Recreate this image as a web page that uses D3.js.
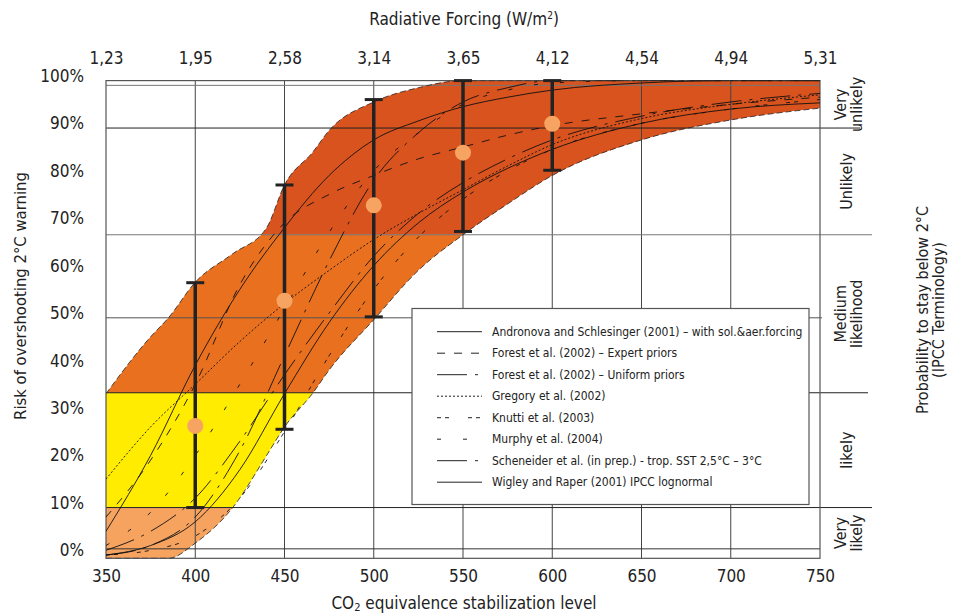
<!DOCTYPE html>
<html>
<head>
<meta charset="utf-8">
<script src="https://cdn.jsdelivr.net/npm/d3@7"></script>
<style>
body { margin: 0; background: #fff; }
text { font-family: "Liberation Sans Narrow", "DejaVu Sans Condensed", sans-serif; fill: #222; }
</style>
</head>
<body>
<div id="chart"></div>
<script>
const W = 953, H = 614;

// axis values
const co2Ticks = [350, 400, 450, 500, 550, 600, 650, 700, 750];
const forcingLabels = ["1,23", "1,95", "2,58", "3,14", "3,65", "4,12", "4,54", "4,94", "5,31"];
const riskTicks = [0, 10, 20, 30, 40, 50, 60, 70, 80, 90, 100];

// IPCC likelihood zones (risk %)
const zoneBreaks = [10, 34.2, 67.5, 90];
const zoneNames = [["Very", "likely"], ["likely"], ["Medium", "likelihood"], ["Unlikely"], ["Very", "unlikely"]];
// colour bands of the envelope
const fillBreaks = [10, 34.2, 67.5];
const zoneFill = ["#f6a360", "#ffec00", "#e8701f", "#d9531e"];

// envelope of all models
const bandCO2 = [350, 375, 385, 400, 421, 440, 450, 466, 475, 500, 525, 550, 575, 600, 650, 700, 750];
const bandUpper = [34, 46, 50, 57.5, 63.5, 69, 78, 85, 89.5, 95.5, 98.5, 100, 100, 100, 100, 100, 100];
const bandLower = [-0.7, -0.7, -0.7, 2.5, 10, 21, 27, 34.2, 39, 49.6, 60, 67.5, 74, 80, 87.5, 91.7, 94.2];

// model curves
const curveCO2 = [350, 375, 400, 425, 450, 475, 500, 525, 550, 575, 600, 650, 700, 750];
const andronova = [5, 21, 40, 56, 69, 80, 87.5, 91.5, 94.5, 96.5, 98, 99.5, 100, 100];
const forestExpert = [8, 20, 36, 57, 70, 76, 80, 83.5, 86, 88.5, 90.5, 93, 95, 96.5];
const forestUniform = [0, 2, 8, 22, 42, 62, 79, 89, 95.5, 98.5, 100, 100, 100, 100];
const gregory = [16, 27, 36, 45, 53, 60, 66.5, 72, 77, 82, 86.5, 92, 95, 97];
const knutti = [0, 1, 4, 12, 26, 42, 56, 67, 75, 81, 85.5, 91, 94, 96];
const murphy = [2, 9, 21, 36, 52, 68, 81, 89, 95, 98, 99.5, 100, 100, 100];
const scheneider = [1, 5, 12, 24, 38, 51, 63, 72, 78.5, 83.5, 87.5, 92.5, 95.5, 97.3];
const wigley = [0, 2, 7, 18, 34, 49, 61, 70, 76.5, 81.5, 85.5, 91, 94, 95.3];

const modelNames = [
  "Andronova and Schlesinger (2001) – with sol.&aer.forcing",
  "Forest et al. (2002) – Expert priors",
  "Forest et al. (2002) – Uniform priors",
  "Gregory et al. (2002)",
  "Knutti et al. (2003)",
  "Murphy et al. (2004)",
  "Scheneider et al. (in prep.) - trop. SST 2,5°C – 3°C",
  "Wigley and Raper (2001) IPCC lognormal"
];
const modelValues = [andronova, forestExpert, forestUniform, gregory, knutti, murphy, scheneider, wigley];
const modelDash = [null, "8,9", "30,8,3,8", "2,2", "4,4,4,19", "4,22", "30,8,3,8", null];

// error bars at the stabilization levels
const barCO2 = [400, 450, 500, 550, 600];
const barLow = [10, 26.5, 50.2, 68.2, 81.1];
const barHigh = [57.4, 78, 96, 100, 100];
const barMid = [27.2, 53.6, 73.7, 84.8, 90.9];

const x = d3.scaleLinear().domain([350, 750]).range([106, 820]);
const y = d3.scaleLinear().domain([0, 100]).range([555, 80.6]);
const yBottom = y(-0.7);

const svg = d3.select("#chart").append("svg")
  .attr("width", W).attr("height", H);

const defs = svg.append("defs");
defs.append("clipPath").attr("id", "plotclip")
  .append("rect")
  .attr("x", x(350)).attr("y", y(100))
  .attr("width", x(750) - x(350)).attr("height", yBottom - y(100));

const bandArea = d3.area()
  .x((d, i) => x(bandCO2[i]))
  .y0((d, i) => y(bandLower[i]))
  .y1((d, i) => y(bandUpper[i]))
  .curve(d3.curveMonotoneX);

defs.append("clipPath").attr("id", "bandclip")
  .append("path").attr("d", bandArea(bandCO2));

// coloured zones inside the envelope
const fillEdges = [-0.7].concat(fillBreaks, [100]);
svg.append("g").attr("clip-path", "url(#plotclip)")
  .append("g").attr("clip-path", "url(#bandclip)")
  .selectAll("rect")
  .data(zoneFill)
  .enter().append("rect")
    .attr("x", x(350))
    .attr("width", x(750) - x(350))
    .attr("y", (d, i) => y(fillEdges[i + 1]))
    .attr("height", (d, i) => y(fillEdges[i]) - y(fillEdges[i + 1]))
    .attr("fill", d => d);

// grid
const grid = svg.append("g");
grid.selectAll(".vline")
  .data(co2Ticks.slice(1, -1))
  .enter().append("line")
    .attr("x1", d => x(d)).attr("x2", d => x(d))
    .attr("y1", y(100)).attr("y2", yBottom)
    .attr("stroke", "#444").attr("stroke-width", 1);

const hLines = [
  {v: 99, end: 750, c: "#777"},
  {v: 90, end: 860, c: "#222"},
  {v: 67.5, end: 872, c: "#777"},
  {v: 50, end: 822, c: "#555"},
  {v: 34.2, end: 868, c: "#222"},
  {v: 10, end: 872, c: "#222"},
  {v: 1.3, end: 750, c: "#333"}
];
grid.selectAll(".hline")
  .data(hLines)
  .enter().append("line")
    .attr("x1", x(350))
    .attr("x2", d => d.end > 800 ? d.end : x(d.end))
    .attr("y1", d => y(d.v)).attr("y2", d => y(d.v))
    .attr("stroke", d => d.c).attr("stroke-width", 1);

// frame
svg.append("rect")
  .attr("x", x(350)).attr("y", y(100))
  .attr("width", x(750) - x(350)).attr("height", yBottom - y(100))
  .attr("fill", "none").attr("stroke", "#555").attr("stroke-width", 1.2);

// model curves
const plotG = svg.append("g").attr("clip-path", "url(#plotclip)");
const line = d3.line()
  .x((d, i) => x(curveCO2[i]))
  .y(d => y(d))
  .curve(d3.curveMonotoneX);

plotG.selectAll(".model")
  .data(modelValues)
  .enter().append("path")
    .attr("d", line)
    .attr("fill", "none")
    .attr("stroke", "#111")
    .attr("stroke-width", 0.9)
    .attr("stroke-dasharray", (d, i) => modelDash[i]);

// dashed edge of the envelope
const edge = d3.line()
  .x((d, i) => x(bandCO2[i]))
  .y(d => y(d))
  .curve(d3.curveMonotoneX);
[bandUpper, bandLower].forEach(arr => {
  plotG.append("path")
    .attr("d", edge(arr))
    .attr("fill", "none")
    .attr("stroke", "#222")
    .attr("stroke-width", 0.8)
    .attr("stroke-dasharray", "6,3");
});

// error bars
const bars = svg.append("g");
barCO2.forEach((c, i) => {
  bars.append("line")
    .attr("x1", x(c)).attr("x2", x(c))
    .attr("y1", y(barLow[i])).attr("y2", y(barHigh[i]))
    .attr("stroke", "#222").attr("stroke-width", 3.5);
  [barLow[i], barHigh[i]].forEach(v => {
    bars.append("line")
      .attr("x1", x(c) - 9).attr("x2", x(c) + 9)
      .attr("y1", y(v)).attr("y2", y(v))
      .attr("stroke", "#222").attr("stroke-width", 3);
  });
});
bars.selectAll("circle")
  .data(barMid)
  .enter().append("circle")
    .attr("cx", (d, i) => x(barCO2[i]))
    .attr("cy", d => y(d))
    .attr("r", 8)
    .attr("fill", "#f7a462");

// axes
const xAxis = svg.append("g")
  .attr("transform", `translate(0,${yBottom})`)
  .call(d3.axisBottom(x).tickValues(co2Ticks).tickSize(0).tickPadding(12).tickFormat(d3.format("d")));
const topAxis = svg.append("g")
  .attr("transform", `translate(0,${y(100)})`)
  .call(d3.axisTop(x).tickValues(co2Ticks).tickSize(0).tickPadding(17)
    .tickFormat((d, i) => forcingLabels[i]));
const yAxis = svg.append("g")
  .attr("transform", `translate(${x(350)},0)`)
  .call(d3.axisLeft(y).tickValues(riskTicks).tickSize(0).tickPadding(22).tickFormat(d => d + "%"));
[xAxis, topAxis, yAxis].forEach(g => {
  g.select(".domain").remove();
  g.selectAll("text").style("font-size", "17px").attr("fill", "#222");
});
yAxis.selectAll("text").attr("dy", "0.05em");

// titles
svg.append("text")
  .attr("x", 464).attr("y", 25)
  .attr("text-anchor", "middle")
  .style("font-size", "17px")
  .html('Radiative Forcing (W/m<tspan dy="-6" font-size="10px">2</tspan><tspan dy="6">)</tspan>');

svg.append("text")
  .attr("x", 464).attr("y", 609)
  .attr("text-anchor", "middle")
  .style("font-size", "17px")
  .html('CO<tspan dy="2" font-size="11px">2</tspan><tspan dy="-2"> equivalence stabilization level</tspan>');

svg.append("text")
  .attr("transform", "translate(26,296) rotate(-90)")
  .attr("text-anchor", "middle")
  .style("font-size", "16.5px")
  .text("Risk of overshooting 2°C warning");

const rightTitle = svg.append("text")
  .attr("transform", "translate(928,310) rotate(-90)")
  .attr("text-anchor", "middle")
  .style("font-size", "16px");
rightTitle.append("tspan").attr("x", 0).attr("dy", 0).text("Probability to stay below 2°C");
rightTitle.append("tspan").attr("x", 0).attr("dy", 16).text("(IPCC Terminology)");

// likelihood names on the right
const zoneEdges = [-0.7].concat(zoneBreaks, [100]);
const zoneMid = zoneEdges.slice(0, -1).map((v, i) => (v + zoneEdges[i + 1]) / 2);
zoneNames.forEach((lines, i) => {
  const t = svg.append("text")
    .attr("transform", `translate(${lines.length > 1 ? 846 : 852},${y(zoneMid[i])}) rotate(-90)`)
    .attr("text-anchor", "middle")
    .style("font-size", "16px");
  lines.forEach((s, j) => {
    t.append("tspan").attr("x", 0).attr("dy", j === 0 ? 0 : 15.5).text(s);
  });
});

// legend
const legend = svg.append("g");
legend.append("rect")
  .attr("x", 412).attr("y", 308.5)
  .attr("width", 397).attr("height", 196)
  .attr("fill", "#fff").attr("stroke", "#555").attr("stroke-width", 1.2);
const rows = legend.selectAll(".row")
  .data(modelNames)
  .enter().append("g")
    .attr("transform", (d, i) => `translate(0,${331.7 + i * 21.5})`);
rows.append("line")
  .attr("x1", 437).attr("x2", 482)
  .attr("stroke", "#222").attr("stroke-width", 1)
  .attr("stroke-dasharray", (d, i) => modelDash[i]);
rows.append("text")
  .attr("x", 492).attr("dy", "0.35em")
  .style("font-size", "12px")
  .text(d => d);
</script>
</body>
</html>
